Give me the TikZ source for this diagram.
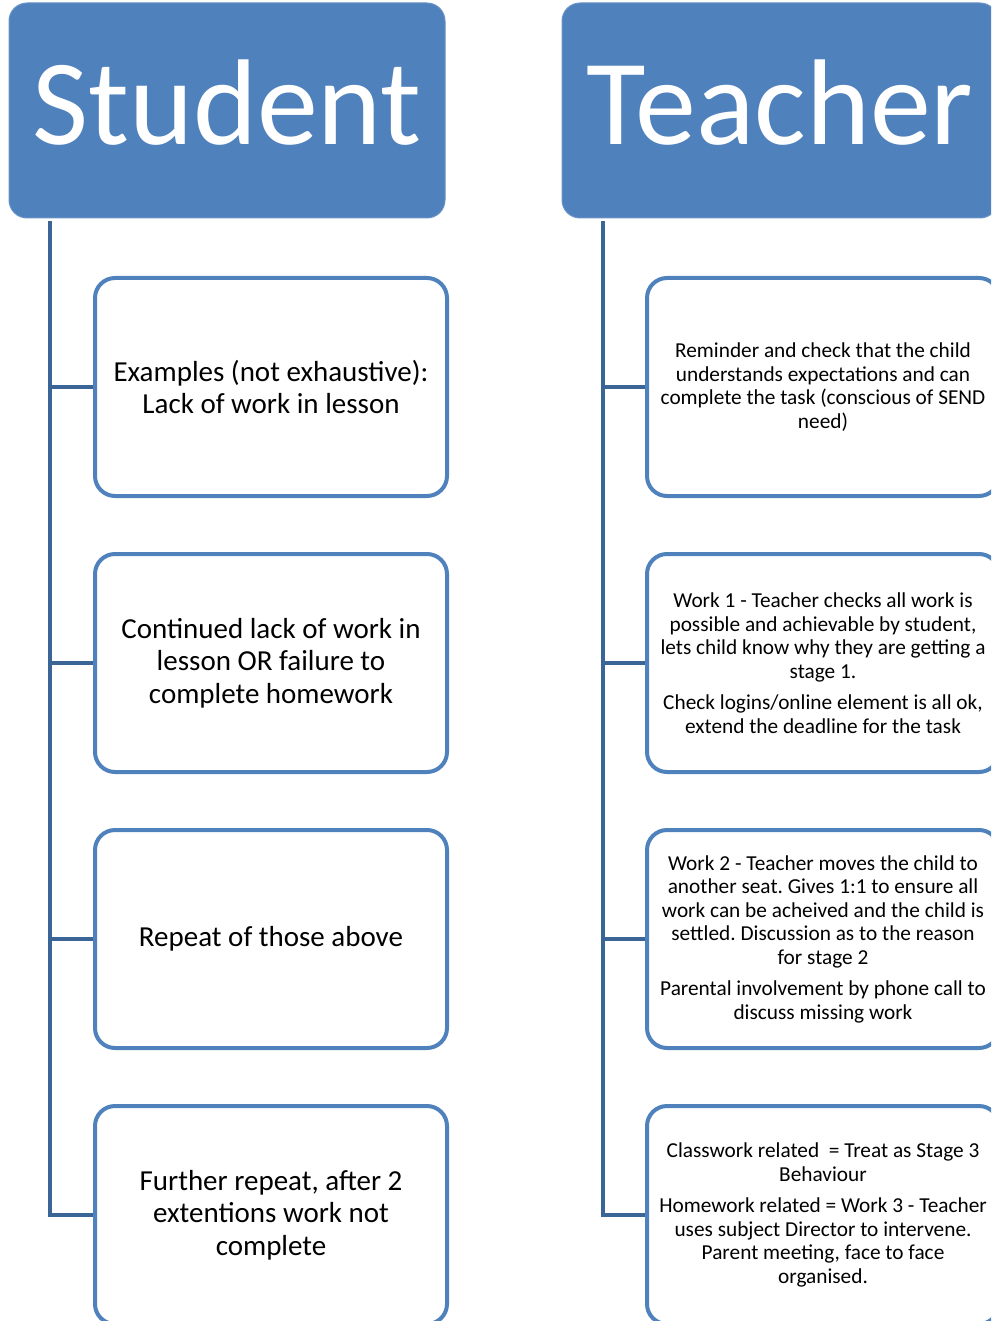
\documentclass[tikz,border=0pt]{standalone}
\usepackage{fontspec}
\setmainfont{Carlito}
\usetikzlibrary{calc}
\frenchspacing

\definecolor{hdrblue}{RGB}{79,129,189}
\definecolor{trunkblue}{RGB}{60,101,151}

\tikzset{
	header/.style={fill=hdrblue,draw=hdrblue!85!white,line width=1pt,rounded corners=18pt,
		minimum width=436pt,minimum height=215pt,text=white,inner sep=0pt},
	stagebox/.style={draw=hdrblue,line width=4pt,rounded corners=20pt,fill=white,
		minimum width=352pt,minimum height=218pt,align=center,inner sep=0pt},
	pupil/.style={stagebox,font=\fontsize{29}{32.5}\selectfont},
	staff/.style={stagebox,font=\fontsize{21.3}{23.5}\selectfont},
	trunk/.style={draw=trunkblue,line width=4pt}
}

\begin{document}
\begin{tikzpicture}[x=1pt,y=-1pt]
	\useasboundingbox (0,0) rectangle (991,1321);
	\clip (0,0) rectangle (991,1321);
	% headers
	\node[header] (stud) at (227,110.5) {};
	\node[text=white,font=\fontsize{122}{122}\selectfont,anchor=base] (studtxt) at (227,145) {Student};
	\node[header] (teach) at (780,110.5) {};
	\node[text=white,font=\fontsize{122}{122}\selectfont,anchor=base] (teachtxt) at (780,145) {Teacher};
	% student column
	\node[pupil] (s1) at (271,387) {Examples (not exhaustive):\\Lack of work in lesson};
	\node[pupil] (s2) at (271,663) {Continued lack of work in\\lesson OR failure to\\complete homework};
	\node[pupil] (s3) at (271,939) {Repeat of those above};
	\node[pupil] (s4) at (271,1215) {Further repeat, after 2\\extentions work not\\complete};
	% teacher column
	\node[staff] (t1) at (823,387) {Reminder and check that the child\\understands expectations and can\\complete the task (conscious of SEND\\need)};
	\node[staff] (t2) at (823,663) {Work 1 - Teacher checks all work is\\possible and achievable by student,\\lets child know why they are getting a\\stage 1.\\[8pt]Check logins/online element is all ok,\\extend the deadline for the task};
	\node[staff] (t3) at (823,939) {Work 2 - Teacher moves the child to\\another seat. Gives 1:1 to ensure all\\work can be acheived and the child is\\settled. Discussion as to the reason\\for stage 2\\[8pt]Parental involvement by phone call to\\discuss missing work};
	\node[staff] (t4) at (823,1215) {Classwork related\ \ = Treat as Stage 3\\Behaviour\\[8pt]Homework related = Work 3 - Teacher\\uses subject Director to intervene.\\Parent meeting, face to face\\organised.};
	% connectors
	\coordinate (sroot) at ($(stud.south west)+(41,3)$);
	\coordinate (troot) at ($(teach.south west)+(41,3)$);
	\draw[trunk] (sroot) |- (s4.west);
	\draw[trunk] (troot) |- (t4.west);
	\foreach \n in {1,2,3} {
		\draw[trunk] (sroot |- s\n.west) -- (s\n.west);
		\draw[trunk] (troot |- t\n.west) -- (t\n.west);
	}
\end{tikzpicture}
\end{document}
